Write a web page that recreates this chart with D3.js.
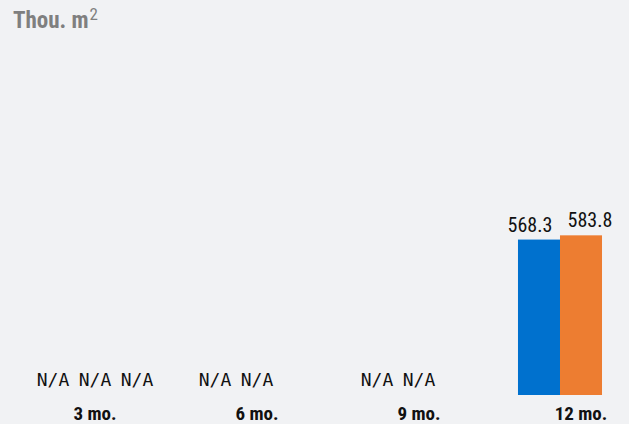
<!DOCTYPE html>
<html>
<head>
<meta charset="utf-8">
<script src="https://cdn.jsdelivr.net/npm/d3@7/dist/d3.min.js"></script>
<style>
  html, body { margin: 0; padding: 0; background: #f1f2f4; }
  svg { display: block; }
  .cond { font-family: "Liberation Sans Narrow", "Arial Narrow", "Roboto Condensed", Roboto, sans-serif; }
</style>
</head>
<body>
<svg id="chart" width="629" height="424"></svg>
<script>
// Periods on the x axis
const periods = ["3 mo.", "6 mo.", "9 mo.", "12 mo."];
// Series values (thousand m²); null = shown as N/A, undefined = no entry
const seriesA = [null, null, null, 568.3];
const seriesB = [null, null, null, 583.8];
const seriesC = [null, undefined, undefined, undefined];
const seriesColors = ["#0071ce", "#ed7d31", "#a5a5a5"];
const unitLabel = "Thou. m";
const unitSup = "2";

const series = [seriesA, seriesB, seriesC];

const baseY = 395;
const svg = d3.select("#chart");

const x0 = d3.scaleBand()
  .domain(periods)
  .range([14, 662])
  .paddingInner(0.222)
  .paddingOuter(0.111);

const x1 = d3.scaleBand()
  .domain(d3.range(series.length))
  .range([0, x0.bandwidth()]);

const y = d3.scaleLinear().domain([0, 1000]).range([baseY, 121.5]);

// Unit title
const title = svg.append("text")
  .attr("class", "cond")
  .attr("x", 13).attr("y", 28)
  .attr("fill", "#7f7f7f")
  .attr("font-size", 23)
  .attr("font-weight", "bold")
  .text(unitLabel);
title.append("tspan")
  .attr("dy", -8)
  .attr("dx", 1)
  .attr("font-size", 17)
  .attr("font-weight", "normal")
  .text(unitSup);

// Flatten into one record per cell
const cells = [];
periods.forEach((p, i) => {
  series.forEach((s, j) => {
    if (s[i] !== undefined) cells.push({ period: p, si: j, v: s[i] });
  });
});

const g = svg.append("g");

// Bars
g.selectAll("rect.bar")
  .data(cells.filter(d => d.v !== null))
  .join("rect")
  .attr("class", "bar")
  .attr("x", d => x0(d.period) + x1(d.si))
  .attr("y", d => y(d.v))
  .attr("width", x1.bandwidth())
  .attr("height", d => y(0) - y(d.v))
  .attr("fill", d => seriesColors[d.si]);

// Value labels, nudged apart so neighbours don't collide
const nudge = [-9, 9, 0];
g.selectAll("text.val")
  .data(cells.filter(d => d.v !== null))
  .join("text")
  .attr("class", "val cond")
  .attr("x", d => x0(d.period) + x1(d.si) + x1.bandwidth() / 2 + nudge[d.si])
  .attr("y", d => y(d.v) - 8)
  .attr("text-anchor", "middle")
  .attr("font-size", 20)
  .attr("fill", "#111")
  .text(d => d3.format(".1f")(d.v));

// N/A markers
g.selectAll("text.na")
  .data(cells.filter(d => d.v === null))
  .join("text")
  .attr("class", "na")
  .attr("x", d => x0(d.period) + x1(d.si) + x1.bandwidth() / 2)
  .attr("y", baseY - 9)
  .attr("text-anchor", "middle")
  .attr("font-family", "'DejaVu Sans Mono', monospace")
  .attr("font-size", 18)
  .attr("fill", "#111")
  .text("N/A");

// Category axis labels
const xAxis = d3.axisBottom(x0).tickSize(0).tickPadding(0);
const ax = svg.append("g").attr("transform", `translate(0,${baseY})`).call(xAxis);
ax.select(".domain").remove();
ax.selectAll("text")
  .attr("class", "cond")
  .attr("y", 25)
  .attr("dy", null)
  .attr("font-size", 19)
  .attr("font-weight", "bold")
  .attr("fill", "#111");
</script>
</body>
</html>
